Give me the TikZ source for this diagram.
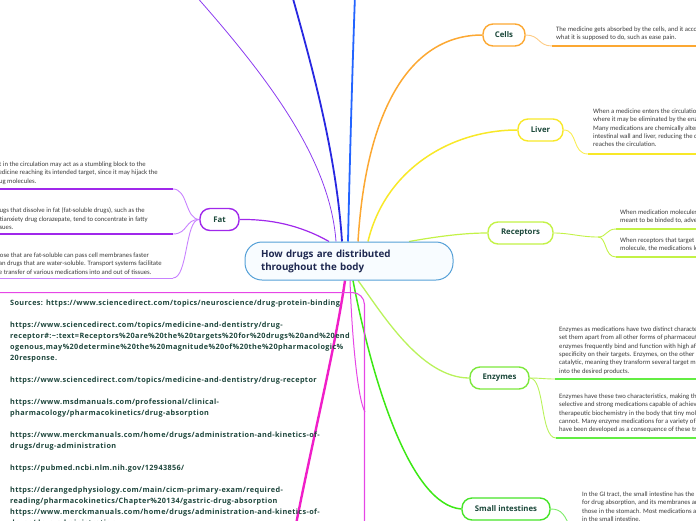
\documentclass[tikz,border=0pt]{standalone}
\usepackage{fontspec}
\setmainfont{Carlito}
\newfontfamily\osans{Open Sans}
\newfontfamily\osanswide{Open Sans}[LetterSpace=5]
\usetikzlibrary{backgrounds}
\definecolor{labeltxt}{RGB}{27,72,58}
\definecolor{titletxt}{RGB}{30,40,80}
\definecolor{bodytxt}{RGB}{60,60,60}
\definecolor{srctxt}{RGB}{30,70,60}
\definecolor{cOrange}{RGB}{252,168,50}
\definecolor{cYellow}{RGB}{248,232,40}
\definecolor{cLime}{RGB}{195,242,70}
\definecolor{cEnz}{RGB}{125,232,60}
\definecolor{cEnzLine}{RGB}{185,242,90}
\definecolor{cSmall}{RGB}{70,228,40}
\definecolor{cGreen}{RGB}{60,232,20}
\definecolor{cFat}{RGB}{160,40,235}
\definecolor{cFatLight}{RGB}{200,130,255}
\definecolor{cMag}{RGB}{240,30,200}
\definecolor{cMagLight}{RGB}{230,70,230}
\definecolor{cViolet}{RGB}{140,60,240}
\definecolor{cBlue}{RGB}{40,40,225}
\definecolor{cBlueB}{RGB}{35,100,255}
\definecolor{cCenter}{RGB}{85,160,215}
\definecolor{rootfill}{RGB}{248,252,255}
\tikzset{
  topic/.style={draw, line width=1.4pt, rounded corners=10pt, fill=white, minimum height=22pt, inner sep=0pt, text=labeltxt, font=\osans\bfseries\fontsize{7.8}{9}\selectfont},
  bodytext/.style={anchor=north west, inner sep=0pt, align=left, text=bodytxt, font=\fontsize{6.7}{8.4}\selectfont},
  underl/.style={line width=1.4pt},
  sublink/.style={line width=0.9pt},
}
\begin{document}
\begin{tikzpicture}[x=1pt,y=-1pt]
\useasboundingbox (0,0) rectangle (696,520);
\clip (0,0) rectangle (696,520);
% central topic
\node[draw=cCenter, line width=1pt, rounded corners=17pt, fill=rootfill, minimum width=208pt, minimum height=38pt, inner xsep=16pt, inner ysep=0pt, text width=176pt, align=left, text=titletxt, font=\osans\bfseries\fontsize{9.8}{13}\selectfont] (root) at (349,261) {How drugs are distributed\\throughout the body};
% main topics
\node[topic, draw=cOrange, minimum width=42pt] (cells) at (504,35) {Cells};
\node[topic, draw=cYellow, minimum width=45pt] (liver) at (540.5,130) {Liver};
\node[topic, draw=cLime, minimum width=65pt] (receptors) at (520.5,233) {Receptors};
\node[topic, draw=cEnz, minimum width=59pt] (enzymes) at (499.5,378) {Enzymes};
\node[topic, draw=cSmall, minimum width=88pt] (small) at (506,509) {Small intestines};
\node[topic, draw=cFat, minimum width=39pt] (fat) at (219.5,219.5) {Fat};
% sources box
\node[draw=cMagLight, line width=1.1pt, rounded corners=12pt, minimum width=385pt, minimum height=240pt, anchor=north east, inner sep=0pt] (srcbox) at (365,292) {};
\node[anchor=north west, inner sep=0pt, align=left, text=srctxt, font=\osanswide\bfseries\fontsize{7.3}{11}\selectfont] (sources) at (10,299.5) {Sources: https://www.sciencedirect.com/topics/neuroscience/drug-protein-binding\\[11pt]
https://www.sciencedirect.com/topics/medicine-and-dentistry/drug-\\
receptor\#:\textasciitilde:text=Receptors\%20are\%20the\%20targets\%20for\%20drugs\%20and\%20end\\
ogenous,may\%20determine\%20the\%20magnitude\%20of\%20the\%20pharmacologic\%\\
20response.\\[11pt]
https://www.sciencedirect.com/topics/medicine-and-dentistry/drug-receptor\\[11pt]
https://www.msdmanuals.com/professional/clinical-\\
pharmacology/pharmacokinetics/drug-absorption\\[11pt]
https://www.merckmanuals.com/home/drugs/administration-and-kinetics-of-\\
drugs/drug-administration\\[11pt]
https://pubmed.ncbi.nlm.nih.gov/12943856/\\[11pt]
https://derangedphysiology.com/main/cicm-primary-exam/required-\\
reading/pharmacokinetics/Chapter\%20134/gastric-drug-absorption\\
https://www.merckmanuals.com/home/drugs/administration-and-kinetics-of-\\
drugs/drug-administration};
% child texts
\node[bodytext] (cellsT) at (556,26.5) {The medicine gets absorbed by the cells, and it accomplishes\\what it is supposed to do, such as ease pain.};
\node[bodytext] (liverT) at (593,108.5) {When a medicine enters the circulation, it first passes the liver,\\where it may be eliminated by the enzymes there.\\Many medications are chemically altered (metabolized) in the\\intestinal wall and liver, reducing the quantity of drug that\\reaches the circulation.};
\node[bodytext] (recT1) at (620,209.5) {When medication molecules bind to receptors they are not\\meant to be binded to, adverse effects may occur.};
\node[bodytext] (recT2) at (620,237.5) {When receptors that target a particular drug bind to the drug\\molecule, the medications lead to the desired effect.};
\node[bodytext] (enzT1) at (559,326.5) {Enzymes as medications have two distinct characteristics that\\set them apart from all other forms of pharmaceuticals. First,\\enzymes frequently bind and function with high affinity and\\specificity on their targets. Enzymes, on the other hand, are\\catalytic, meaning they transform several target molecules\\into the desired products.};
\node[bodytext] (enzT2) at (559,393.5) {Enzymes have these two characteristics, making them\\selective and strong medications capable of achieving\\therapeutic biochemistry in the body that tiny molecules\\cannot. Many enzyme medications for a variety of illnesses\\have been developed as a consequence of these traits.};
\node[bodytext] (smallT) at (582,491.5) {In the GI tract, the small intestine has the largest surface area\\for drug absorption, and its membranes are more permeable than\\those in the stomach. Most medications are absorbed primarily\\in the small intestine.};
\node[bodytext] (fatT1) at (-7,161.5) {Fat in the circulation may act as a stumbling block to the\\medicine reaching its intended target, since it may hijack the\\drug molecules.};
\node[bodytext] (fatT2) at (-7,207.5) {Drugs that dissolve in fat (fat-soluble drugs), such as the\\antianxiety drug clorazepate, tend to concentrate in fatty\\tissues.};
\node[bodytext] (fatT3) at (-7,252.5) {Those that are fat-soluble can pass cell membranes faster\\than drugs that are water-soluble. Transport systems facilitate\\the transfer of various medications into and out of tissues.};
% coordinates
\coordinate (offViolet) at (195,-5);
\coordinate (offBlue) at (292,-5);
\coordinate (offBlueB) at (355,-5);
\coordinate (offMag) at (293,540);
\coordinate (srcjoin) at (365,412);
\coordinate (cellsU) at (552,46);   \coordinate (cellsUe) at (700,46);
\coordinate (liverU) at (588,154);  \coordinate (liverUe) at (700,154);
\coordinate (recJ) at (598,237);
\coordinate (rec1U) at (616,229);   \coordinate (rec1Ue) at (700,229);
\coordinate (rec2U) at (616,257);   \coordinate (rec2Ue) at (700,257);
\coordinate (enz1U) at (555,379);   \coordinate (enz1Ue) at (700,379);
\coordinate (enz2U) at (556,438);   \coordinate (enz2Ue) at (700,438);
\coordinate (smallU) at (572,532);
\coordinate (fat1U) at (173,189);   \coordinate (fat1Ue) at (-5,189);
\coordinate (fat2U) at (173,234);   \coordinate (fat2Ue) at (-5,234);
\coordinate (fat3U) at (173,278);   \coordinate (fat3Ue) at (-5,278);
\begin{pgfonlayer}{background}
% main connectors
\draw[cViolet, line width=0.8pt] ([xshift=-13pt]root.north) .. controls (330,160) and (270,80) .. (offViolet);
\draw[cBlue, line width=1.8pt] ([xshift=-7pt]root.north) .. controls (336,150) and (310,60) .. (offBlue);
\draw[cBlueB, line width=1.8pt] ([xshift=-1pt]root.north) .. controls (350,150) and (353,50) .. (offBlueB);
\draw[cOrange, line width=1.5pt] ([xshift=9pt]root.north) .. controls (366,110) and (410,35) .. (cells.west);
\draw[cYellow, line width=1.5pt] ([xshift=19pt]root.north) .. controls (385,170) and (450,130) .. (liver.west);
\draw[cLime, line width=1.2pt] ([xshift=60pt]root.north) .. controls (440,236) and (465,233) .. (receptors.west);
\draw[cFat, line width=1.2pt] (fat.east) .. controls (270,219) and (300,225) .. ([xshift=-20pt]root.north);
\draw[cMag, line width=2.4pt] ([xshift=-4pt]root.south) .. controls (335,350) and (310,450) .. (offMag);
\draw[cMagLight, line width=1pt] ([xshift=1pt]root.south) .. controls (352,340) and (358,400) .. (srcjoin);
\draw[cGreen, line width=1.5pt] ([xshift=4pt]root.south) .. controls (372,380) and (410,505) .. (small.west);
\draw[cEnzLine, line width=1.3pt] ([xshift=9pt]root.south) .. controls (380,310) and (420,378) .. (enzymes.west);
% sub connectors
\draw[cOrange!60, sublink] (cells.east) .. controls (540,35) and (538,46) .. (cellsU);
\draw[cYellow!80, sublink] (liver.east) .. controls (578,130) and (572,154) .. (liverU);
\draw[cLime, sublink] (receptors.east) .. controls (570,233) and (580,237) .. (recJ);
\draw[cLime, sublink] (recJ) .. controls (607,237) and (606,229) .. (rec1U);
\draw[cLime, sublink] (recJ) .. controls (607,237) and (604,257) .. (rec2U);
\draw[cEnzLine, sublink] (enzymes.east) .. controls (540,378) and (545,379) .. (enz1U);
\draw[cEnzLine, sublink] (enzymes.east) .. controls (545,378) and (540,438) .. (enz2U);
\draw[cSmall!70, sublink] (small.east) .. controls (562,509) and (565,515) .. (smallU);
\draw[cFatLight, sublink] (fat.west) .. controls (185,219) and (188,189) .. (fat1U);
\draw[cFatLight, sublink] (fat.west) .. controls (185,219) and (188,234) .. (fat2U);
\draw[cFatLight, sublink] (fat.west) .. controls (185,219) and (188,278) .. (fat3U);
% underlines
\draw[cOrange, underl] (cellsU) -- (cellsUe);
\draw[cYellow, underl] (liverU) -- (liverUe);
\draw[cLime, underl] (rec1U) -- (rec1Ue);
\draw[cLime, underl] (rec2U) -- (rec2Ue);
\draw[cGreen!80, underl] (enz1U) -- (enz1Ue);
\draw[cGreen!80, underl] (enz2U) -- (enz2Ue);
\draw[cFat, underl] (fat1U) -- (fat1Ue);
\draw[cFat, underl] (fat2U) -- (fat2Ue);
\draw[cFatLight, line width=1pt] (fat3U) -- (fat3Ue);
\end{pgfonlayer}
\end{tikzpicture}
\end{document}
